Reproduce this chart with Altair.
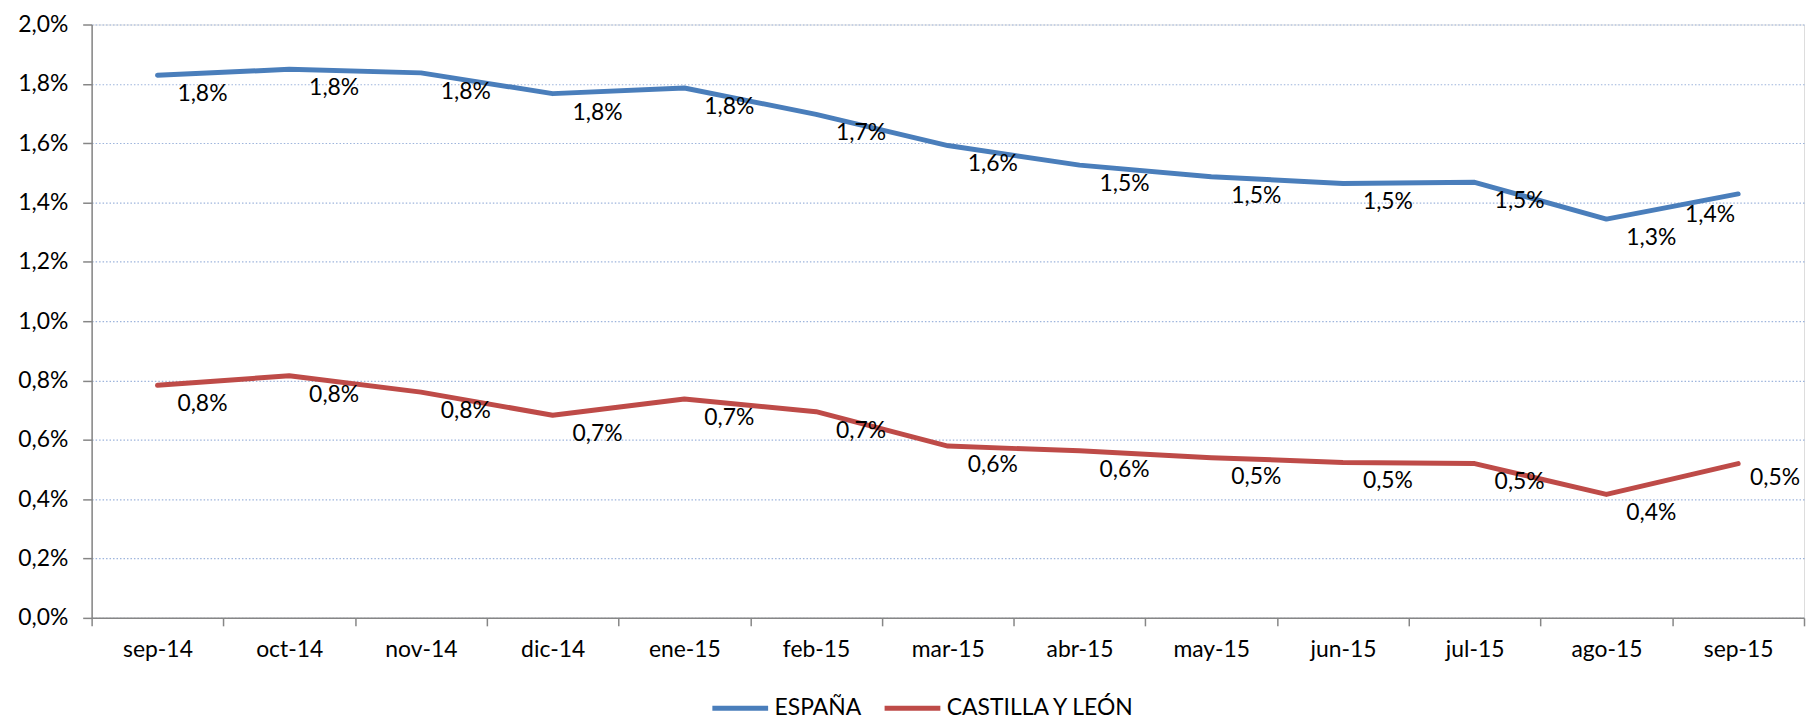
import altair as alt
import pandas as pd

months = ["sep-14", "oct-14", "nov-14", "dic-14", "ene-15", "feb-15", "mar-15",
          "abr-15", "may-15", "jun-15", "jul-15", "ago-15", "sep-15"]
espana = [1.829, 1.849, 1.837, 1.767, 1.786, 1.697, 1.592, 1.526, 1.487, 1.464, 1.468, 1.344, 1.429]
castilla = [0.784, 0.816, 0.761, 0.683, 0.738, 0.695, 0.579, 0.563, 0.540, 0.524, 0.520, 0.416, 0.520]
series_names = ["ESPAÑA", "CASTILLA Y LEÓN"]
series_colors = ["#4A7EBB", "#BE4B48"]
y_ticks = [0.0, 0.2, 0.4, 0.6, 0.8, 1.0, 1.2, 1.4, 1.6, 1.8, 2.0]

rows = []
for m, v in zip(months, espana):
    rows.append({"mes": m, "serie": series_names[0], "valor": v})
for m, v in zip(months, castilla):
    rows.append({"mes": m, "serie": series_names[1], "valor": v})
df = pd.DataFrame(rows)

FONT = "Lato"
FS = 23
LAST = months[-1]

x_enc = alt.X(
    "mes:N",
    sort=months,
    scale=alt.Scale(type="band", paddingInner=0, paddingOuter=0),
    axis=alt.Axis(
        title=None,
        labelAngle=0,
        tickBand="extent",
        grid=False,
        domainColor="#868686",
        domainWidth=1.5,
        tickColor="#868686",
        tickWidth=1.5,
        tickSize=8,
        labelPadding=13,
        labelFont=FONT,
        labelFontSize=FS,
        labelColor="#000000",
    ),
)
y_enc = alt.Y(
    "valor:Q",
    scale=alt.Scale(domain=[0, 2.0], nice=False, zero=True),
    axis=alt.Axis(
        title=None,
        values=y_ticks,
        labelExpr="replace(format(datum.value, '.1f'), '.', ',') + '%'",
        grid=True,
        gridColor="#9DB4DC",
        gridDash=[1.5, 2],
        gridWidth=1.2,
        domainColor="#868686",
        domainWidth=1.5,
        tickColor="#868686",
        tickWidth=1.5,
        tickSize=9,
        labelPadding=15,
        labelFont=FONT,
        labelFontSize=FS,
        labelColor="#000000",
    ),
)
color_enc = alt.Color(
    "serie:N",
    sort=series_names,
    scale=alt.Scale(domain=series_names, range=series_colors),
    legend=alt.Legend(
        title=None,
        orient="none",
        direction="horizontal",
        legendX=621,
        legendY=656,
        symbolType="stroke",
        symbolStrokeWidth=5,
        symbolSize=3136,
        labelFont=FONT,
        labelFontSize=FS,
        labelColor="#000000",
        labelLimit=0,
        labelOffset=4,
        columnPadding=12,
    ),
)

base = alt.Chart(df)

lines = base.mark_line(strokeWidth=5, strokeCap="round", strokeJoin="round").encode(
    x=x_enc, y=y_enc, color=color_enc
)

lab_base = base.transform_calculate(
    etiqueta="replace(format(datum.valor, '.1f'), '.', ',') + '%'"
)
lab_enc = dict(x=alt.X("mes:N", sort=months), y="valor:Q", text="etiqueta:N")

labels_main = lab_base.mark_text(
    align="left", baseline="middle", dx=20, dy=19, font=FONT, fontSize=FS, color="#000000"
).transform_filter(alt.datum.mes != LAST).encode(**lab_enc)

labels_last_es = lab_base.mark_text(
    align="right", baseline="middle", dx=-3, dy=21, font=FONT, fontSize=FS, color="#000000"
).transform_filter(
    (alt.datum.mes == LAST) & (alt.datum.serie == series_names[0])
).encode(**lab_enc)

labels_last_cl = lab_base.mark_text(
    align="left", baseline="middle", dx=12, dy=15, font=FONT, fontSize=FS, color="#000000"
).transform_filter(
    (alt.datum.mes == LAST) & (alt.datum.serie == series_names[1])
).encode(**lab_enc)

chart = (
    alt.layer(lines, labels_main, labels_last_es, labels_last_cl)
    .properties(
        width=1720,
        height=596,
        autosize=alt.AutoSizeParams(type="none"),
        padding={"left": 84, "top": 15, "right": 2, "bottom": 101},
    )
    .configure_view(stroke=None)
    .configure(background="white")
)

chart.save("out.html", embed_options={"renderer": "svg", "actions": False})
